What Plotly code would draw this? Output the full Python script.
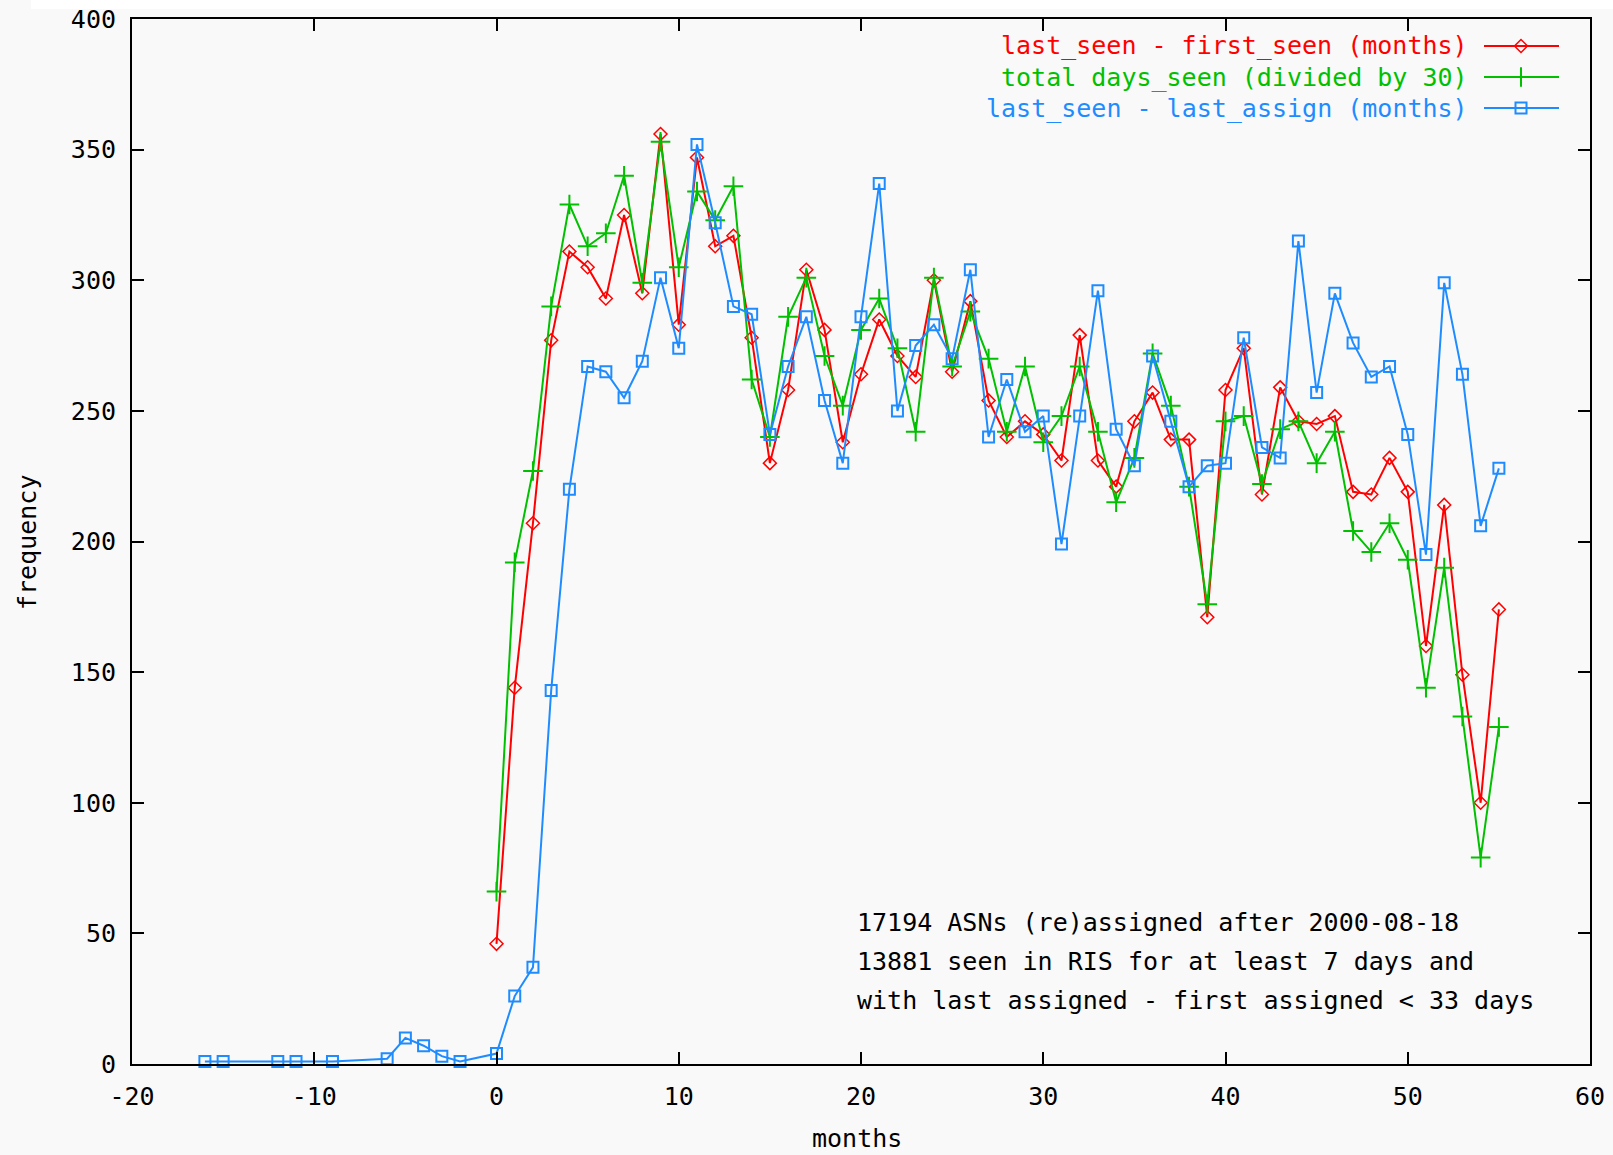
import plotly.graph_objects as go

# ---------------- data ----------------
months_main = list(range(0, 56))

first_seen_vals = [46, 144, 207, 277, 311, 305, 293, 325, 295, 356,
                   283, 347, 313, 317, 278, 230, 258, 304, 281, 238,
                   264, 285, 271, 263, 300, 265, 292, 254, 240, 246,
                   241, 231, 279, 231, 221, 246, 257, 239, 239, 171,
                   258, 274, 218, 259, 246, 245, 248, 219, 218, 232,
                   219, 160, 214, 149, 100, 174]

days_seen_vals = [66, 192, 227, 290, 329, 313, 318, 340, 299, 353,
                  305, 334, 323, 336, 262, 240, 286, 301, 271, 252,
                  281, 293, 274, 242, 301, 267, 288, 270, 242, 267,
                  238, 248, 267, 242, 215, 232, 272, 252, 221, 176,
                  246, 248, 222, 243, 246, 230, 242, 204, 196, 207,
                  193, 144, 190, 133, 79, 129]

last_assign_months = [-16, -15, -12, -11, -9, -6, -5, -4, -3, -2] + list(range(0, 56))
last_assign_vals = [1, 1, 1, 1, 1, 2, 10, 7, 3, 1,
                    4, 26, 37, 143, 220, 267, 265, 255, 269, 301,
                    274, 352, 322, 290, 287, 241, 267, 286, 254, 230,
                    286, 337, 250, 275, 283, 270, 304, 240, 262, 242,
                    248, 199, 248, 296, 243, 229, 271, 246, 221, 229,
                    230, 278, 236, 232, 315, 257, 295, 276, 263, 267,
                    241, 195, 299, 264, 206, 228]

series_names = ["last_seen - first_seen (months)",
                "total days_seen (divided by 30)",
                "last_seen - last_assign (months)"]

x_ticks = [-20, -10, 0, 10, 20, 30, 40, 50, 60]
y_ticks = [0, 50, 100, 150, 200, 250, 300, 350, 400]

note_lines = ["17194 ASNs (re)assigned after 2000-08-18",
              "13881 seen in RIS for at least 7 days and",
              "with last assigned - first assigned < 33 days"]

# ---------------- style ----------------
W, H = 1613, 1155
L, R, T, B = 132, 23, 19, 91
FONT = "DejaVu Sans Mono"
FS = 25
RED, GREEN, BLUE = "#ff0000", "#00c000", "#1e8cff"
BG = "#f9f9f9"

plot_left, plot_right = L, W - R
plot_top, plot_bottom = T, H - B
PW, PH = plot_right - plot_left, plot_bottom - plot_top


def pxx(xp):
    return (xp - plot_left) / PW


def pxy(yp):
    return (plot_bottom - yp) / PH


fig = go.Figure()

fig.add_trace(go.Scatter(
    x=months_main, y=first_seen_vals, mode="lines+markers",
    line=dict(color=RED, width=2),
    marker=dict(symbol="diamond-open", size=10, color=RED, line=dict(width=1.5, color=RED)),
    showlegend=False, cliponaxis=False))
fig.add_trace(go.Scatter(
    x=months_main, y=days_seen_vals, mode="lines+markers",
    line=dict(color=GREEN, width=2),
    marker=dict(symbol="cross-thin", size=14, color=GREEN, line=dict(width=2, color=GREEN)),
    showlegend=False, cliponaxis=False))
fig.add_trace(go.Scatter(
    x=last_assign_months, y=last_assign_vals, mode="lines+markers",
    line=dict(color=BLUE, width=2),
    marker=dict(symbol="square-open", size=11, color=BLUE, line=dict(width=2, color=BLUE)),
    showlegend=False, cliponaxis=False))

# key samples drawn on an overlay axis in pixel coordinates
key_rows = [46, 77, 108]
key_colors = [RED, GREEN, BLUE]
key_symbols = [("diamond-open", 10, 1.5), ("cross-thin", 14, 2), ("square-open", 11, 2)]
for yrow, col, (sym, sz, lw) in zip(key_rows, key_colors, key_symbols):
    fig.add_trace(go.Scatter(
        x=[1484, 1521, 1559], y=[yrow, yrow, yrow], xaxis="x2", yaxis="y2",
        mode="lines+markers", line=dict(color=col, width=2),
        marker=dict(symbol=sym, size=sz, color=col, line=dict(width=lw, color=col),
                    opacity=[0, 1, 0]),
        showlegend=False, hoverinfo="skip", cliponaxis=False))

axis_common = dict(
    showline=True, linecolor="black", linewidth=2, mirror="ticks",
    ticks="inside", ticklen=12, tickwidth=2, tickcolor="black",
    showgrid=False, zeroline=False, automargin=False,
    tickfont=dict(family=FONT, size=FS, color="black"),
)

fig.update_layout(
    width=W, height=H,
    margin=dict(l=L, r=R, t=T, b=B, pad=0, autoexpand=False),
    paper_bgcolor=BG, plot_bgcolor=BG,
    font=dict(family=FONT, size=FS, color="black"),
    xaxis=dict(range=[-20, 60], tickvals=x_ticks, ticktext=[str(v) for v in x_ticks],
               ticklabelstandoff=9, **axis_common),
    yaxis=dict(range=[0, 400], tickvals=y_ticks, ticktext=[str(v) for v in y_ticks],
               ticklabelstandoff=9, **axis_common),
    xaxis2=dict(overlaying="x", range=[plot_left, plot_right], visible=False,
                fixedrange=True, automargin=False),
    yaxis2=dict(overlaying="y", range=[plot_bottom, plot_top], visible=False,
                fixedrange=True, automargin=False),
)

ann = []
for name, yrow, col in zip(series_names, key_rows, key_colors):
    ann.append(dict(x=pxx(1470), y=pxy(yrow), xref="paper", yref="paper", text=name,
                    showarrow=False, xanchor="right", yanchor="middle",
                    font=dict(family=FONT, size=FS, color=col)))
for line, yrow in zip(note_lines, [922, 961, 1000]):
    ann.append(dict(x=pxx(855), y=pxy(yrow), xref="paper", yref="paper",
                    text=line.replace("<", "&lt;"),
                    showarrow=False, xanchor="left", yanchor="middle",
                    font=dict(family=FONT, size=FS, color="black")))
ann.append(dict(x=pxx(857), y=pxy(1138), xref="paper", yref="paper", text="months",
                showarrow=False, xanchor="center", yanchor="middle",
                font=dict(family=FONT, size=FS, color="black")))
ann.append(dict(x=pxx(27), y=pxy(542), xref="paper", yref="paper", text="frequency",
                showarrow=False, textangle=-90, xanchor="center", yanchor="middle",
                font=dict(family=FONT, size=FS, color="black")))
fig.update_layout(annotations=ann)

# white strip along the top edge of the picture
fig.add_shape(type="rect", xref="paper", yref="paper",
              x0=pxx(31), x1=pxx(W), y0=pxy(9), y1=pxy(0),
              fillcolor="white", line=dict(width=0), layer="below")

fig.write_html("out.html")
